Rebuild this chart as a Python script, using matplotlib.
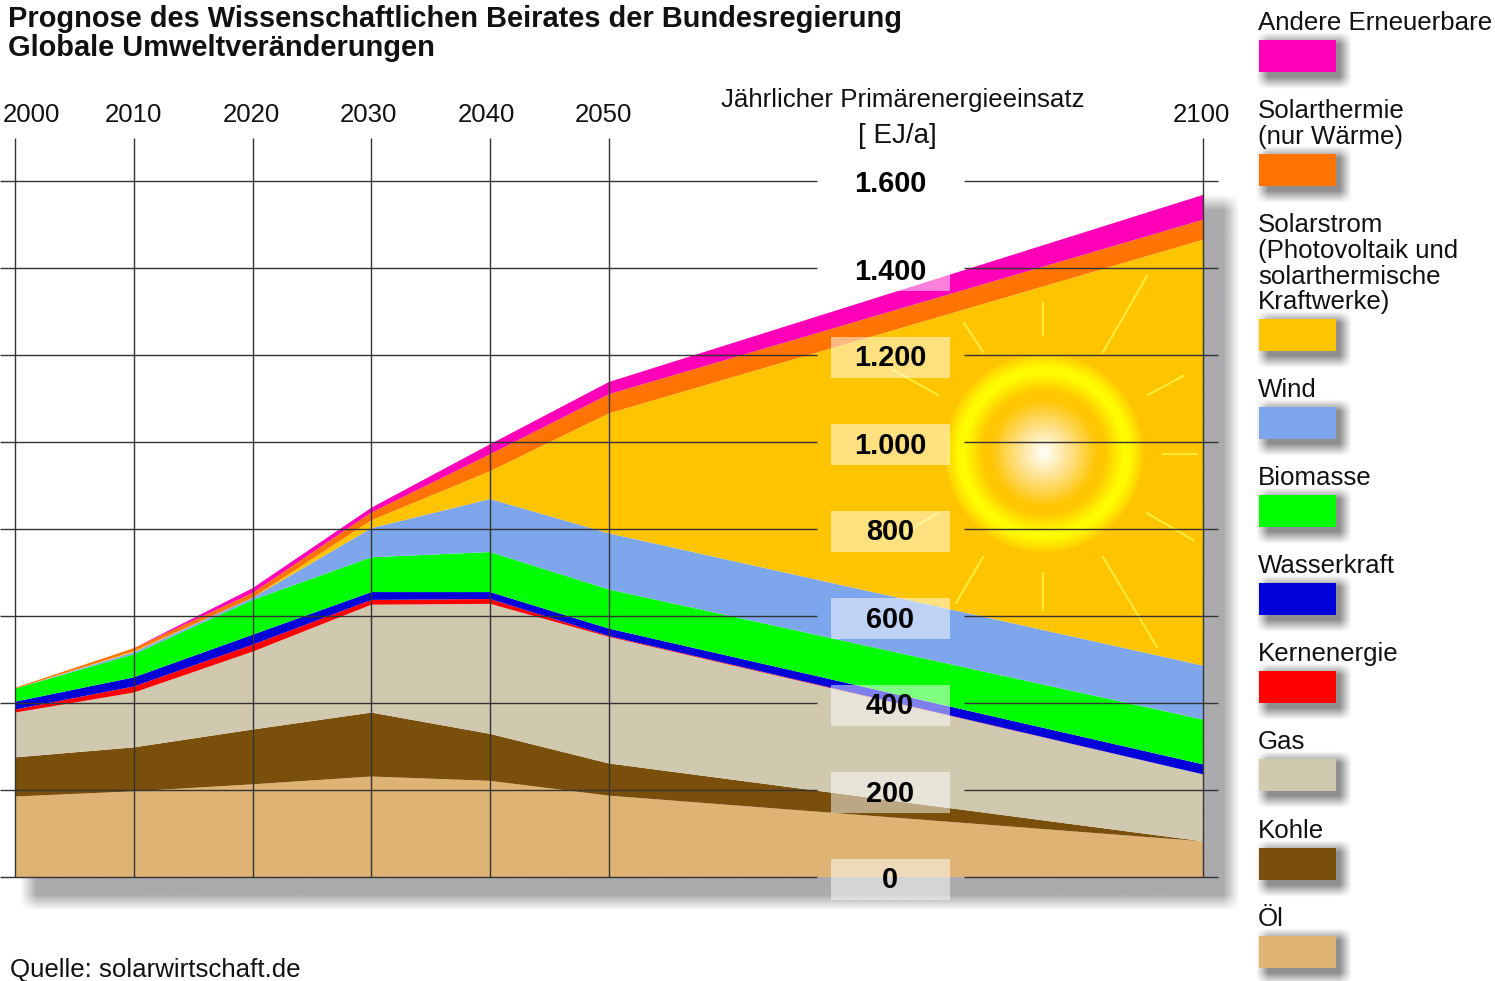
import numpy as np
from matplotlib import pyplot
from matplotlib.colors import to_rgb
from matplotlib.transforms import Affine2D

years = [2000, 2010, 2020, 2030, 2040, 2050, 2100]
yticks = [0, 200, 400, 600, 800, 1000, 1200, 1400, 1600]
ytick_labels = ['0', '200', '400', '600', '800', '1.000', '1.200', '1.400', '1.600']

# Primary energy per source, EJ/a, bottom to top of the stack
oel = [185, 197, 213, 231, 221, 187, 82]
kohle = [90, 101, 126, 147, 108, 74, 0]
gas = [103, 126, 179, 248, 299, 291, 154]
kern = [7, 14, 16, 11, 11, 2, 0]
wasser = [18, 21, 23, 18, 16, 17, 23]
biomasse = [30, 53, 80, 80, 92, 90, 103]
wind = [0, 5, 5, 67, 122, 129, 124]
solarstrom = [0, 2, 0, 18, 64, 276, 979]
solarthermie = [2, 7, 11, 18, 39, 44, 46]
andere = [0, 0, 11, 11, 23, 28, 57]

colors = ['#DEB373', '#7A4F0B', '#D0C9AF', '#FF0000', '#0000D8',
          '#00FF00', '#7EA6EC', '#FFC400', '#FF7300', '#FF00B8']

legend_labels = ['Andere Erneuerbare', 'Solarthermie\n(nur Wärme)',
                 'Solarstrom\n(Photovoltaik und\nsolarthermische\nKraftwerke)',
                 'Wind', 'Biomasse', 'Wasserkraft', 'Kernenergie',
                 'Gas', 'Kohle', 'Öl']
legend_colors = colors[::-1]
legend_swatch_top = [40, 154, 319, 407, 495, 583, 671, 759, 848, 936]

W, H = 1495, 981
X0, PX_PER_YEAR = 15.0, 11.88
Y0, PX_PER_EJ = 877.0, 0.435

pyplot.rcParams['font.family'] = ['Liberation Sans', 'DejaVu Sans']

fig = pyplot.figure(figsize=(W / 100, H / 100), dpi=100)
ax = fig.add_axes([0, 0, 1, 1])
ax.axis('off')
xlim = (2000 - X0 / PX_PER_YEAR, 2000 + (W - X0) / PX_PER_YEAR)
ylim = (-(H - Y0) / PX_PER_EJ, Y0 / PX_PER_EJ)

# image pixels (y down) to display
px = Affine2D().scale(1, -1).translate(0, H)


def to_year(x):
  return 2000 + (x - X0) / PX_PER_YEAR


def soft_rect(x0, y0, x1, y1, color, blur, zorder):
  m = 3 * blur
  xs = np.arange(x0 - m, x1 + m + 1)
  ys = np.arange(y0 - m, y1 + m + 1)
  ax_ = np.clip((xs - x0 + blur) / (2 * blur), 0, 1) * np.clip((x1 - xs + blur) / (2 * blur), 0, 1)
  ay_ = np.clip((ys - y0 + blur) / (2 * blur), 0, 1) * np.clip((y1 - ys + blur) / (2 * blur), 0, 1)
  img = np.zeros((len(ys), len(xs), 4))
  img[..., :3] = to_rgb(color)
  img[..., 3] = np.outer(ay_, ax_)
  ax.imshow(img, extent=(xs[0], xs[-1], ys[0], ys[-1]), origin='lower',
            transform=px, aspect='auto', zorder=zorder, interpolation='bilinear')


def rect(x0, y0, x1, y1, color, zorder, alpha=1.0):
  ax.fill([x0, x1, x1, x0], [y0, y0, y1, y1], color=color, alpha=alpha,
          lw=0, transform=px, zorder=zorder)


def sun(cx, cy, zorder):
  r_max = 102
  grid = np.arange(-r_max, r_max + 1)
  xx, yy = np.meshgrid(grid, grid)
  r = np.hypot(xx, yy)
  stops_r = [0, 6, 25, 53, 62, 80, 86, 102]
  stops_c = np.array([[255, 255, 250], [255, 250, 228], [255, 226, 145],
                      [255, 198, 5], [255, 200, 0], [255, 252, 0],
                      [255, 250, 0], [255, 196, 0]]) / 255
  img = np.zeros(r.shape + (4,))
  for i in range(3):
    img[..., i] = np.interp(r, stops_r, stops_c[:, i])
  img[..., 3] = np.clip((r_max - r) / 4, 0, 1)
  ax.imshow(img, extent=(cx - r_max, cx + r_max, cy - r_max, cy + r_max),
            origin='lower', transform=px, aspect='auto', zorder=zorder,
            interpolation='bilinear')


# drop shadow of the plot block, white plot area over it
soft_rect(28, 202, 1232, 903, '#ABABAD', 8, 1)
rect(14, 100, 1203, Y0, 'white', 2)

ax.stackplot(years, oel, kohle, gas, kern, wasser, biomasse, wind,
             solarstrom, solarthermie, andere, colors=colors,
             linewidth=0, zorder=3)

# sun and its rays
sun(1044, 453, 4)
rays = [((1147, 276), (1103, 352)), ((1043, 303), (1043, 335)),
        ((964, 323), (983, 352)), ((1148, 395), (1183, 376)),
        ((1163, 454), (1197, 454)), ((1147, 513), (1193, 540)),
        ((1103, 557), (1157, 647)), ((1043, 573), (1043, 610)),
        ((983, 557), (956, 603)), ((893, 370), (938, 395)),
        ((938, 513), (893, 540))]
for (xa, ya), (xb, yb) in rays:
  ax.plot([xa, xb], [ya, yb], color='#FFE838', lw=1.6, transform=px, zorder=4)

# grid, with a gap for the value labels
line = dict(color='#333333', lw=1.0, zorder=5)
ax.vlines(years, 0, 1698, **line)
ax.hlines(yticks, xlim[0], to_year(817), **line)
ax.hlines(yticks, to_year(964), to_year(1218), **line)

for value, label in zip(yticks, ytick_labels):
  yp = Y0 - value * PX_PER_EJ
  rect(831, yp - 18, 950, yp + 23, 'white', 6, alpha=0.5)
  ax.text(890, yp + 11.5, label, transform=px, ha='center', va='baseline',
          fontsize=20.8, fontweight='bold', color='black', zorder=7)

year_label_x = [31, 133, 251, 368, 486, 603, 1201]
for year, xp in zip(years, year_label_x):
  ax.text(xp, 122, str(year), transform=px, ha='center', va='baseline',
          fontsize=18.5, color='#111111', zorder=7)

ax.text(903, 107, 'Jährlicher Primärenergieeinsatz', transform=px, ha='center',
        va='baseline', fontsize=18.6, color='#111111', zorder=7)
ax.text(897, 143, '[ EJ/a]', transform=px, ha='center', va='baseline',
        fontsize=20, color='#111111', zorder=7)

ax.text(8, 27, 'Prognose des Wissenschaftlichen Beirates der Bundesregierung',
        transform=px, va='baseline', fontsize=20.9, fontweight='bold',
        color='#111111', zorder=7)
ax.text(8, 56, 'Globale Umweltveränderungen', transform=px, va='baseline',
        fontsize=20.9, fontweight='bold', color='#111111', zorder=7)
ax.text(10, 977, 'Quelle: solarwirtschaft.de', transform=px, va='baseline',
        fontsize=18.6, color='#111111', zorder=7)

# legend down the right side
for label, color, top in zip(legend_labels, legend_colors, legend_swatch_top):
  soft_rect(1262, top - 2, 1346, top + 43, '#8F8F8F', 6, 1)
  rect(1259, top, 1336, top + 32, color, 2)
  lines = label.split('\n')
  for i, text in enumerate(lines):
    ax.text(1258, top - 10 - 25.5 * (len(lines) - 1 - i), text, transform=px,
            va='baseline', fontsize=18.6, color='#111111', zorder=7)

ax.set_xlim(*xlim)
ax.set_ylim(*ylim)
fig.savefig('out.png', dpi=100)
